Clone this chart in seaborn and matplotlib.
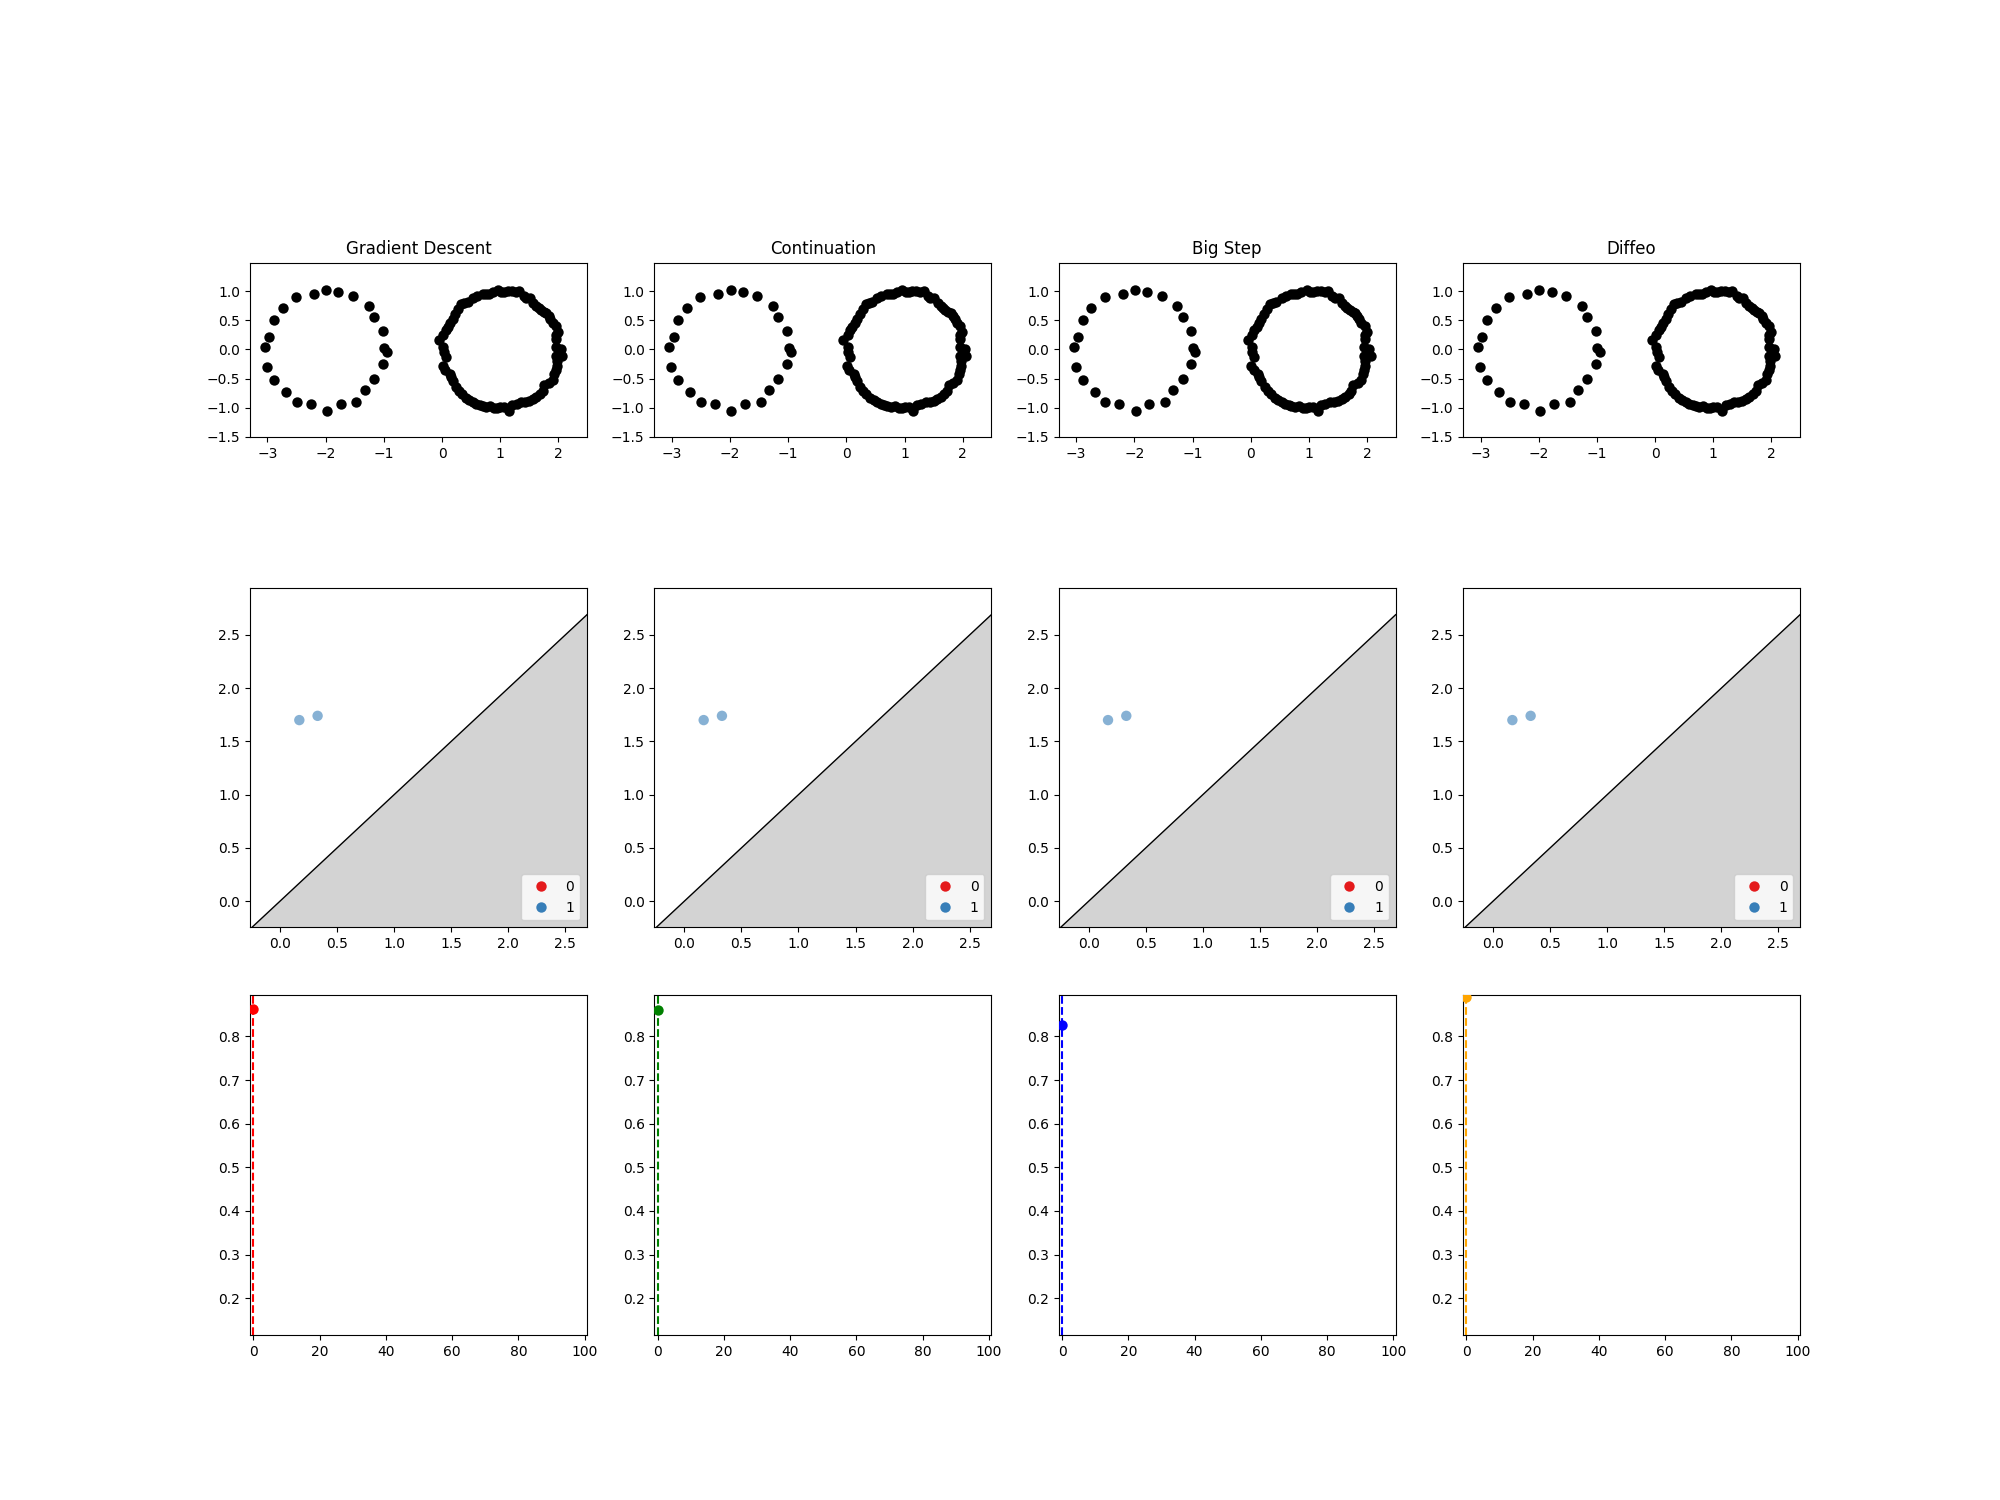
import numpy as np
import pandas as pd
import seaborn as sns
import matplotlib
matplotlib.use('Agg')
import matplotlib.pyplot as plt

# названия методов и цвета для нижнего ряда
methods = ['Gradient Descent', 'Continuation', 'Big Step', 'Diffeo']
method_colors = ['red', 'green', 'blue', 'orange']

# облако точек: левая окружность (центр -2, 0)
left_x = [-1.99, -1.78, -1.53, -1.26, -1.17, -1.02, -0.99, -0.95, -1.02, -1.17,
          -1.33, -1.47, -1.74, -1.98, -2.26, -2.50, -2.68, -2.89, -3.01, -3.04,
          -2.97, -2.89, -2.74, -2.51, -2.20]
left_y = [1.02, 0.98, 0.91, 0.74, 0.55, 0.31, 0.02, -0.05, -0.25, -0.51,
          -0.70, -0.91, -0.94, -1.05, -0.94, -0.91, -0.73, -0.52, -0.30, 0.05,
          0.22, 0.51, 0.72, 0.90, 0.95]

# правая окружность (центр 1, 0), точек больше
right_x = [0.87, 0.96, 1.02, 1.07, 1.13, 1.20, 1.27, 1.33, 1.40, 1.44, 1.51, 1.57,
           1.62, 1.66, 1.70, 1.75, 1.79, 1.83, 1.86, 1.90, 1.96, 1.99, 1.96, 1.96,
           1.95, 2.04, 2.06, 1.95, 1.97, 1.97, 1.95, 1.93, 1.90, 1.84, 1.76, 1.73,
           1.68, 1.62, 1.56, 1.50, 1.43, 1.36, 1.28, 1.21, 1.15, 1.07, 1.00, 0.95,
           0.90, 0.83, 0.76, 0.70, 0.65, 0.59, 0.53, 0.47, 0.41, 0.34, 0.29, 0.24,
           0.18, 0.15, 0.13, 0.05, 0.01, 0.06, 0.03, 0.02, -0.05, 0.02, 0.06, 0.10,
           0.14, 0.18, 0.23, 0.28, 0.33, 0.38, 0.44, 0.53, 0.60, 0.70, 0.75, 0.80]
right_y = [0.99, 1.02, 0.99, 0.99, 1.00, 1.01, 0.99, 1.00, 0.92, 0.89, 0.88, 0.80,
           0.75, 0.71, 0.68, 0.65, 0.62, 0.57, 0.53, 0.46, 0.40, 0.30, 0.24, 0.18,
           0.04, 0.01, -0.11, -0.12, -0.20, -0.29, -0.36, -0.42, -0.53, -0.58, -0.62, -0.71,
           -0.76, -0.81, -0.85, -0.88, -0.90, -0.91, -0.93, -0.95, -1.05, -0.99, -0.99, -1.00,
           -1.01, -0.98, -0.99, -0.97, -0.95, -0.93, -0.90, -0.87, -0.83, -0.77, -0.71, -0.65,
           -0.54, -0.48, -0.42, -0.35, -0.29, -0.13, -0.05, 0.04, 0.17, 0.25, 0.33, 0.38,
           0.46, 0.53, 0.60, 0.70, 0.78, 0.80, 0.82, 0.88, 0.91, 0.95, 0.95, 0.96]

# диаграмма персистентности (одинаковая для всех методов)
pd_birth = [0.17, 0.33]
pd_death = [1.70, 1.74]
pd_dim = [1, 1]
dim_order = [0, 1]
dim_palette = {0: '#e41a1c', 1: '#377eb8'}

# значение функции потерь на нулевой итерации
loss_iter = [0, 0, 0, 0]
loss_value = [0.8625, 0.861, 0.825, 0.89]

cloud = pd.DataFrame({'x': left_x + right_x, 'y': left_y + right_y})
diagram = pd.DataFrame({'birth': pd_birth, 'death': pd_death, 'dim': pd_dim})

fig, axes = plt.subplots(3, 4, figsize=(20, 15))

for i, name in enumerate(methods):
    # верхний ряд - облако точек
    ax = axes[0, i]
    sns.scatterplot(data=cloud, x='x', y='y', color='black', s=56, linewidth=0, ax=ax)
    ax.set_title(name)
    ax.set_xlim(-3.3, 2.49)
    ax.set_ylim(-1.505, 1.49)
    ax.set_aspect('equal')
    ax.set_xlabel('')
    ax.set_ylabel('')

    # средний ряд - диаграмма
    ax = axes[1, i]
    lo, hi = -0.262, 2.689
    ax.fill_between([lo, hi], [lo, lo], [lo, hi], color='lightgray', zorder=0)
    ax.plot([lo, hi], [lo, hi], color='black', linewidth=1)
    sns.scatterplot(data=diagram, x='birth', y='death', hue='dim', hue_order=dim_order,
                    palette=dim_palette, alpha=0.6, s=56, linewidth=0, ax=ax)
    ax.set_xlim(lo, hi)
    ax.set_ylim(-0.245, 2.943)
    ax.set_xlabel('')
    ax.set_ylabel('')
    leg = ax.legend(loc='lower right')
    for h in leg.legend_handles:
        h.set_alpha(1)

    # нижний ряд - потери
    ax = axes[2, i]
    c = method_colors[i]
    sns.scatterplot(x=[loss_iter[i]], y=[loss_value[i]], color=c, s=56, linewidth=0,
                    ax=ax, zorder=3)
    ax.axvline(loss_iter[i], color=c, linestyle='--')
    ax.set_xlim(-1, 100.7)
    ax.set_ylim(0.116, 0.894)
    ax.set_xticks([0, 20, 40, 60, 80, 100])

plt.savefig('out.png', dpi=100)
